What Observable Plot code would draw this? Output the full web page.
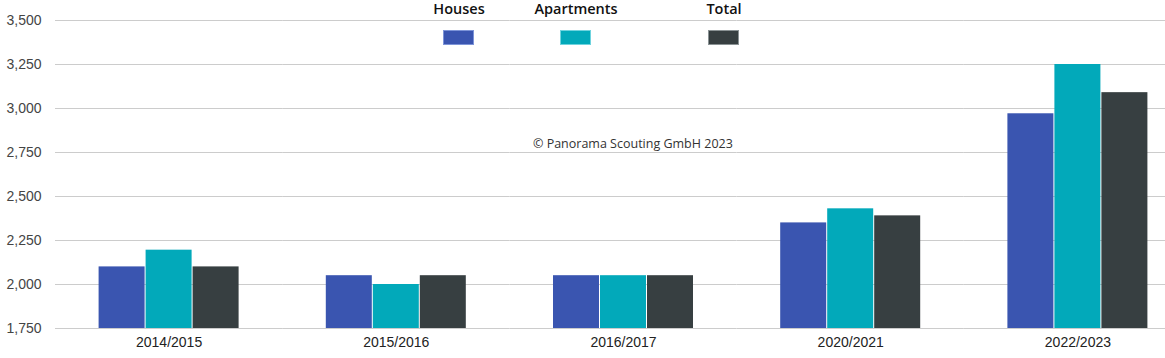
<!DOCTYPE html>
<html>
<head>
<meta charset="utf-8">
<script src="https://cdn.jsdelivr.net/npm/d3@7"></script>
<script src="https://cdn.jsdelivr.net/npm/@observablehq/plot@0.6"></script>
<style>
  html, body { margin: 0; padding: 0; background: #fff; }
  #wrap { position: relative; width: 1165px; height: 358px; overflow: hidden; }
  #chart { position: absolute; left: 0; top: 0; width: 1191px; height: 358px; }
  #chart svg { max-width: none !important; width: 1191px !important; height: 358px !important; }
  .leg { position: absolute; font-family: "Open Sans", sans-serif; font-size: 14.5px; font-weight: 600; color: #111; text-align: center; }
  .sw { position: absolute; width: 31px; height: 15px; box-sizing: border-box; }
  #copy { position: absolute; left: 533px; top: 135px; font-family: "Open Sans", sans-serif; font-size: 12.5px; color: #333; white-space: nowrap; }
</style>
</head>
<body>
<div id="wrap">
  <div id="chart"></div>
  <div id="legend"></div>
  <div id="copy">© Panorama Scouting GmbH 2023</div>
</div>
<script>
const years = ["2014/2015", "2015/2016", "2016/2017", "2020/2021", "2022/2023"];
const seriesNames = ["Houses", "Apartments", "Total"];
const houses = [2100, 2050, 2050, 2350, 2970];
const apartments = [2195, 2000, 2050, 2430, 3250];
const total = [2100, 2050, 2050, 2390, 3090];
const seriesColors = ["#3a55b0", "#02a9ba", "#373f41"];
const legendBorders = ["#7d94d8", "#6fd3de", "#8a9294"];
const yTicks = [1750, 2000, 2250, 2500, 2750, 3000, 3250, 3500];
const yMin = 1750, yMax = 3500;

const seriesValues = [houses, apartments, total];
const data = [];
years.forEach((yr, i) => {
  seriesNames.forEach((s, j) => data.push({year: yr, series: s, value: seriesValues[j][i]}));
});

const chart = Plot.plot({
  width: 1191,
  height: 358,
  marginLeft: 55,
  marginRight: 0,
  marginTop: 20,
  marginBottom: 30,
  style: {fontFamily: "'Liberation Sans', Arial, sans-serif", fontSize: "14px", color: "#333", background: "#fff"},
  fx: {domain: years, padding: 0, round: false, label: null},
  x: {domain: seriesNames, paddingInner: 0, paddingOuter: 0.917, round: false, axis: null},
  y: {domain: [yMin, yMax], label: null},
  color: {domain: seriesNames, range: seriesColors},
  marks: [
    Plot.ruleY(yTicks, {stroke: "#cccccc", strokeWidth: 1}),
    Plot.barY(data, {fx: "year", x: "series", y1: () => yMin, y2: "value", fill: "series", insetLeft: 0.5, insetRight: 0.5}),
    Plot.axisY({ticks: yTicks, tickSize: 0, tickPadding: 14, tickFormat: d3.format(","), label: null, fill: "#444"}),
    Plot.axisFx({anchor: "bottom", tickSize: 0, tickPadding: 9, label: null, fill: "#222"})
  ]
});
document.getElementById("chart").appendChild(chart);

// legend (overlaid at top, as in reference)
const legendCenters = [459, 576, 724];
const legend = document.getElementById("legend");
seriesNames.forEach((s, j) => {
  const t = document.createElement("div");
  t.className = "leg";
  t.textContent = s;
  t.style.left = (legendCenters[j] - 60) + "px";
  t.style.width = "120px";
  t.style.top = "-1px";
  legend.appendChild(t);
  const sw = document.createElement("div");
  sw.className = "sw";
  sw.style.left = (legendCenters[j] - 16) + "px";
  sw.style.top = "30px";
  sw.style.background = seriesColors[j];
  sw.style.border = "1px solid " + legendBorders[j];
  legend.appendChild(sw);
});
</script>
</body>
</html>
